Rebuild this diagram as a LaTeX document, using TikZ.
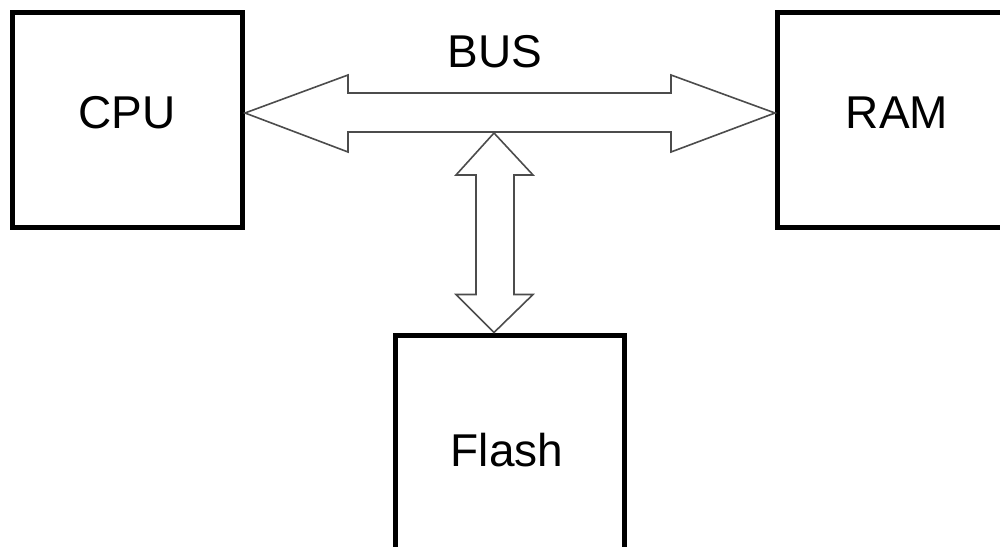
\documentclass[tikz,border=0pt]{standalone}
\usepackage{fontspec}
\setmainfont{Liberation Sans}
\usetikzlibrary{calc}
\begin{document}
\begin{tikzpicture}[x=1pt,y=-1pt,
  unit/.style={draw=black,line width=5pt,fill=white,minimum width=230pt,minimum height=215pt,inner sep=0pt,font=\fontsize{46}{50}\selectfont},
  fatarrow/.style={draw=black!70,line width=1.6pt,fill=white,line join=miter},
  lbl/.style={font=\fontsize{46}{50}\selectfont,inner sep=0pt}]
\useasboundingbox (0,0) rectangle (1000,546);
\clip (0,0) rectangle (1000,546);
\fill[white] (0,0) rectangle (1000,546);
\node[unit] (CPU) at (127.5,120) {};
\node[lbl] at (127,113) {CPU};
\node[unit] (RAM) at (892.5,120) {};
\node[lbl] at (897,113) {RAM};
\node[unit,minimum width=229pt,minimum height=230pt] (Flash) at (510,450) {};
\node[lbl] at (507,450) {Flash};
\node[lbl] (BUS) at (495,52) {BUS};
% bus arrow
\coordinate (L) at (CPU.east |- 0,113);
\coordinate (R) at (RAM.west |- 0,113);
\draw[fatarrow] (L) -- ($(L)+(103,-38)$) -- ($(L)+(103,-20)$) -- ($(R)+(-104,-20)$) -- ($(R)+(-104,-38)$) -- (R)
  -- ($(R)+(-104,39)$) -- ($(R)+(-104,19)$) -- ($(L)+(103,19)$) -- ($(L)+(103,39)$) -- cycle;
% vertical arrow
\coordinate (T) at (494,133);
\coordinate (B) at (Flash.north -| T);
\draw[fatarrow] (T) -- ($(T)+(39,42)$) -- ($(T)+(20,42)$) -- ($(B)+(20,-38)$) -- ($(B)+(39,-38)$) -- (B)
  -- ($(B)+(-38,-38)$) -- ($(B)+(-18,-38)$) -- ($(T)+(-18,42)$) -- ($(T)+(-38,42)$) -- cycle;
\end{tikzpicture}
\end{document}
